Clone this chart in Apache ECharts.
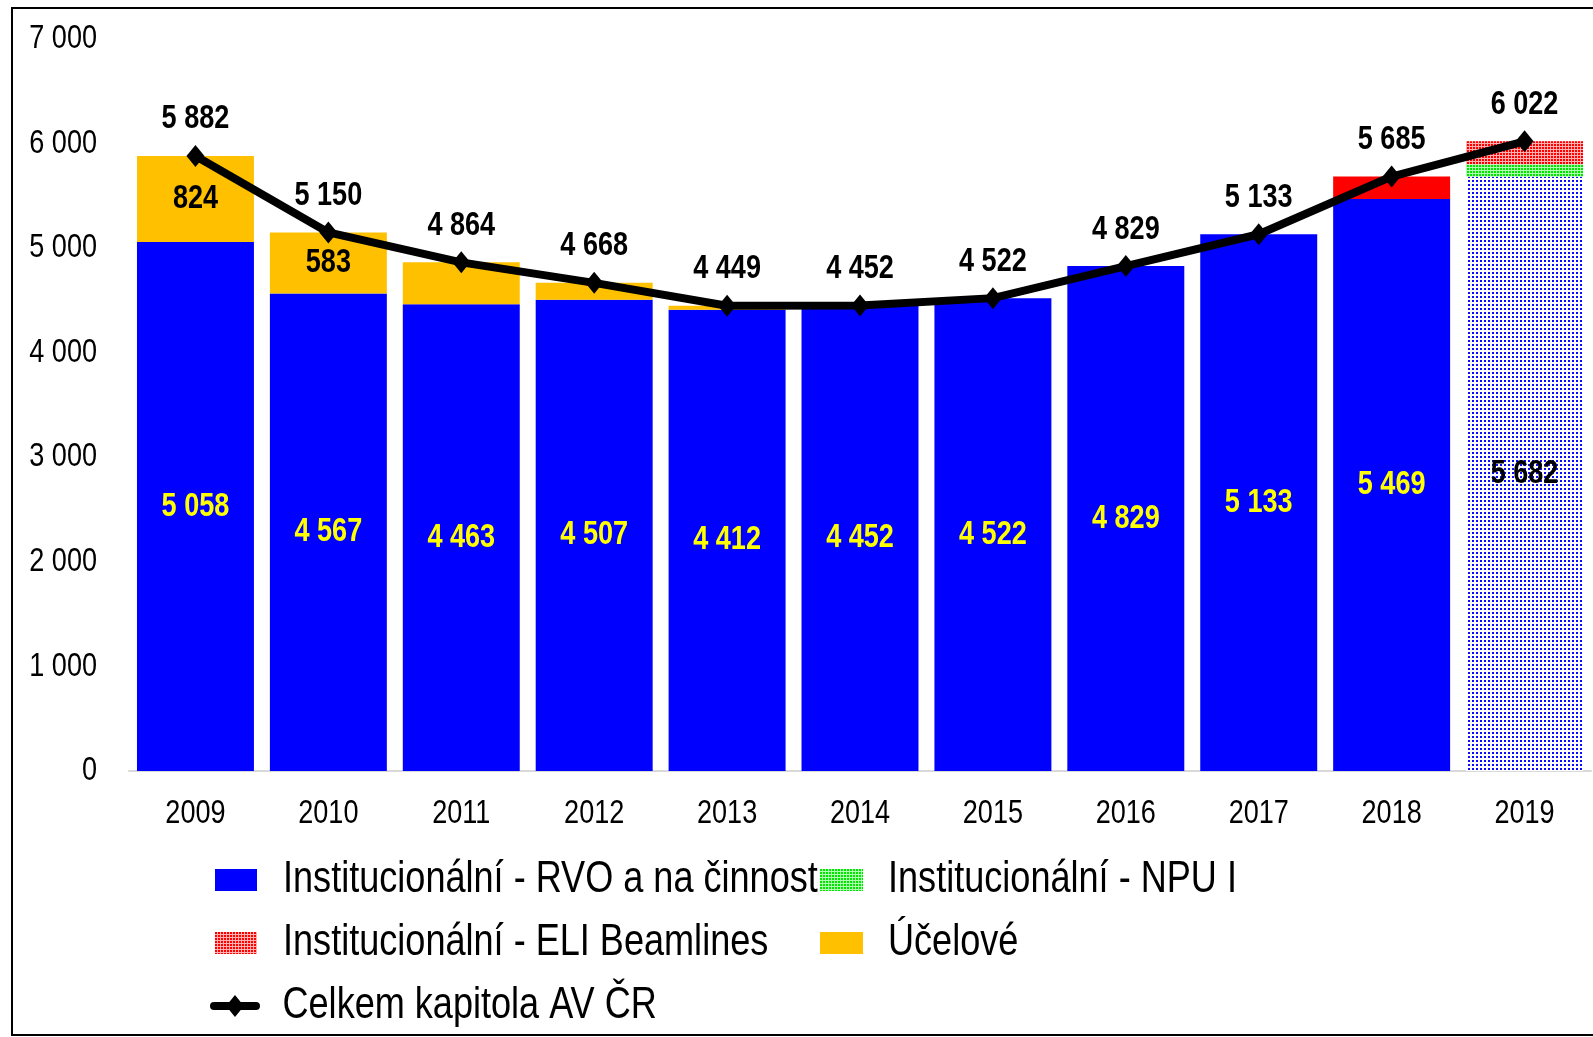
<!DOCTYPE html>
<html>
<head>
<meta charset="utf-8">
<script src="https://cdn.jsdelivr.net/npm/echarts@6/dist/echarts.min.js"></script>
<style>
html,body{margin:0;padding:0;background:#fff;}
#chart{width:1593px;height:1037px;}
</style>
</head>
<body>
<div id="chart"></div>
<script>
var years = ['2009','2010','2011','2012','2013','2014','2015','2016','2017','2018','2019'];
var rvo = [5058, 4567, 4463, 4507, 4412, 4452, 4522, 4829, 5133, 5469, 5682];
var ucelove = [824, 583, 401, 161, 37, 0, 0, 0, 0, 0, 0];
var npu = [0, 0, 0, 0, 0, 0, 0, 0, 0, 0, 120];
var eliSolid = [0, 0, 0, 0, 0, 0, 0, 0, 0, 216, 0];
var eliPattern = [0, 0, 0, 0, 0, 0, 0, 0, 0, 0, 220];
var celkem = [5882, 5150, 4864, 4668, 4449, 4452, 4522, 4829, 5133, 5685, 6022];
var yTicks = [0, 1000, 2000, 3000, 4000, 5000, 6000, 7000];
var shownUcelove = [824, 583];

// Narrow (Arial Narrow-like) text: condense canvas text horizontally
(function(){
  var S = 0.82;
  var P = CanvasRenderingContext2D.prototype;
  var of = P.fillText, os = P.strokeText, om = P.measureText;
  P.fillText = function(t, x, y, mw){
    this.save(); this.translate(x, y); this.scale(S, 1);
    if (mw !== undefined) of.call(this, t, 0, 0, mw / S); else of.call(this, t, 0, 0);
    this.restore();
  };
  P.strokeText = function(t, x, y, mw){
    this.save(); this.translate(x, y); this.scale(S, 1);
    if (mw !== undefined) os.call(this, t, 0, 0, mw / S); else os.call(this, t, 0, 0);
    this.restore();
  };
  P.measureText = function(t){
    var m = om.call(this, t);
    return {
      width: m.width * S,
      actualBoundingBoxLeft: m.actualBoundingBoxLeft * S,
      actualBoundingBoxRight: m.actualBoundingBoxRight * S,
      actualBoundingBoxAscent: m.actualBoundingBoxAscent,
      actualBoundingBoxDescent: m.actualBoundingBoxDescent,
      fontBoundingBoxAscent: m.fontBoundingBoxAscent,
      fontBoundingBoxDescent: m.fontBoundingBoxDescent
    };
  };
})();

var FONT = "'Liberation Sans', Arial, sans-serif";
function fmt(v){ return String(v).replace(/\B(?=(\d{3})+(?!\d))/g, ' '); }

var N_RVO = 'Institucionální - RVO a na činnost';
var N_NPU = 'Institucionální - NPU I';
var N_ELI = 'Institucionální - ELI Beamlines';
var N_UCE = 'Účelové';
var N_TOT = 'Celkem kapitola AV ČR';

var chart = echarts.init(document.getElementById('chart'), null, {renderer:'canvas'});

var rvoData = rvo.map(function(v, i){
  if (i === years.length - 1) {
    return {value: v, itemStyle: {color: '#ffffff', decal: {symbol:'rect', symbolSize:1, dashArrayX:[2,2], dashArrayY:[2,2], rotation:0, color:'#0a0aff'}}, label:{color:'#000000'}};
  }
  return v;
});

var legendText = {fontFamily: FONT, fontSize: 44, color: '#000', lineHeight: 44};
var lineIcon = 'path://M4,7 L19.3,7 L25,0 L30.7,7 L46,7 A4,4 0 0 1 46,15 L30.7,15 L25,22 L19.3,15 L4,15 A4,4 0 0 1 4,7 Z';

var option = {
  animation: false,
  textStyle: {fontFamily: FONT},
  graphic: [{
    type: 'rect', shape: {x: 12, y: 8, width: 1600, height: 1027},
    style: {fill: 'none', stroke: '#000', lineWidth: 2}, silent: true, z: 100
  }],
  grid: {left: 129, right: 2, top: 39, bottom: 266, containLabel: false},
  legend: [{
    left: 215, top: 858, padding: 0, orient: 'vertical', itemWidth: 42, itemHeight: 22, itemGap: 19,
    data: [{name: N_RVO, icon: 'rect'}, {name: N_ELI, icon: 'rect'}],
    textStyle: Object.assign({padding: [0,0,0,21]}, legendText)
  },{
    left: 210, top: 984, padding: 0, orient: 'vertical', itemWidth: 51, itemHeight: 22,
    data: [{name: N_TOT, icon: lineIcon}],
    textStyle: Object.assign({padding: [0,0,0,17]}, legendText)
  },{
    left: 820, top: 858, padding: 0, orient: 'vertical', itemWidth: 43, itemHeight: 22, itemGap: 19,
    data: [{name: N_NPU, icon: 'rect'}, {name: N_UCE, icon: 'rect'}],
    textStyle: Object.assign({padding: [0,0,0,20]}, legendText)
  }],
  xAxis: {
    type: 'category', data: years,
    axisLine: {lineStyle: {color: '#d9d9d9', width: 2}},
    axisTick: {show: false},
    axisLabel: {fontFamily: FONT, fontSize: 33, color: '#000', margin: 29}
  },
  yAxis: {
    type: 'value', min: yTicks[0], max: yTicks[yTicks.length-1], interval: 1000,
    axisLine: {show: false}, axisTick: {show: false}, splitLine: {show: false},
    axisLabel: {fontFamily: FONT, fontSize: 33, color: '#000', margin: 32, formatter: function(v){ return fmt(v); }}
  },
  series: [{
    name: N_RVO, type: 'bar', stack: 'a', barCategoryGap: '12%',
    itemStyle: {color: '#0000ff'},
    label: {show: true, position: 'inside', fontFamily: FONT, fontSize: 33, fontWeight: 'bold', color: '#ffff00', formatter: function(p){ return fmt(p.value); }},
    data: rvoData
  },{
    name: N_UCE, type: 'bar', stack: 'a',
    itemStyle: {color: '#ffc000'},
    label: {show: true, position: 'inside', fontFamily: FONT, fontSize: 33, fontWeight: 'bold', color: '#000',
      formatter: function(p){ return shownUcelove.indexOf(p.value) >= 0 ? fmt(p.value) : ''; }},
    data: ucelove
  },{
    name: N_NPU, type: 'bar', stack: 'a',
    itemStyle: {color: '#b0ffb0', decal: {symbol:'rect', symbolSize:1, dashArrayX:[2,1], dashArrayY:[2,1], rotation:0, color:'#00e600'}},
    data: npu
  },{
    name: N_ELI + ' ', type: 'bar', stack: 'a',
    itemStyle: {color: '#ff0000'},
    data: eliSolid
  },{
    name: N_ELI, type: 'bar', stack: 'a',
    itemStyle: {color: '#ffb0b0', decal: {symbol:'rect', symbolSize:1, dashArrayX:[2,1], dashArrayY:[2,1], rotation:0, color:'#ff0000'}},
    data: eliPattern
  },{
    name: N_TOT, type: 'line', z: 10,
    symbol: 'diamond', symbolSize: [18, 22],
    lineStyle: {color: '#000', width: 8},
    itemStyle: {color: '#000'},
    label: {show: true, position: 'top', distance: 12, fontFamily: FONT, fontSize: 33, fontWeight: 'bold', color: '#000', formatter: function(p){ return fmt(p.value); }},
    data: celkem
  }]
};
chart.setOption(option);
</script>
</body>
</html>
